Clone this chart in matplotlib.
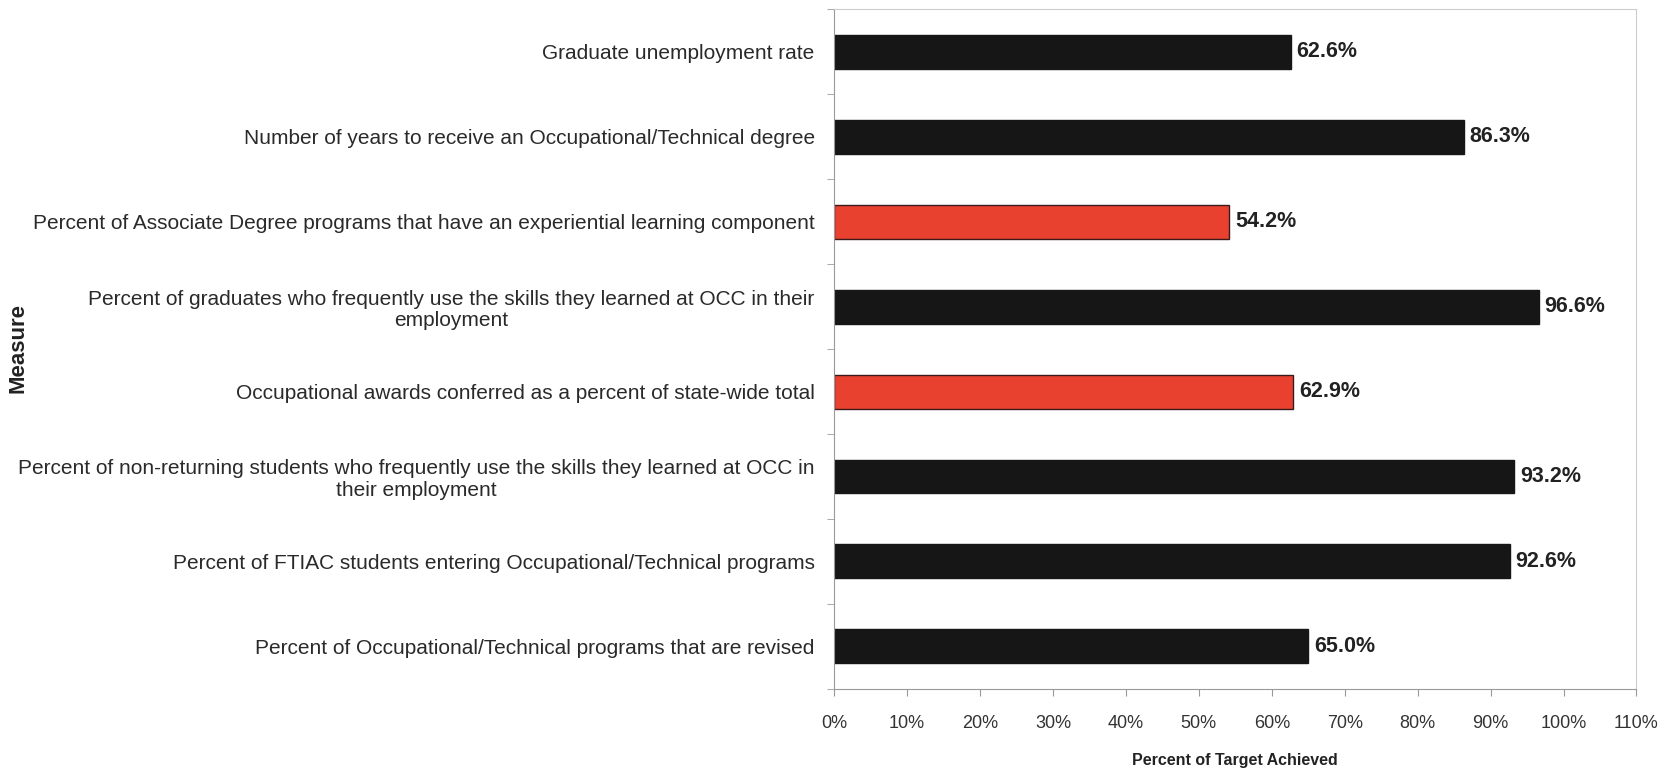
import matplotlib
matplotlib.use("Agg")
import matplotlib.pyplot as plt
from matplotlib.ticker import FuncFormatter, MultipleLocator

plt.rcParams['font.family'] = ['Liberation Sans', 'DejaVu Sans']

measures = [
    "Graduate unemployment rate",
    "Number of years to receive an Occupational/Technical degree",
    "Percent of Associate Degree programs that have an experiential learning component",
    "Percent of graduates who frequently use the skills they learned at OCC in their\nemployment",
    "Occupational awards conferred as a percent of state-wide total",
    "Percent of non-returning students who frequently use the skills they learned at OCC in\ntheir employment",
    "Percent of FTIAC students entering Occupational/Technical programs",
    "Percent of Occupational/Technical programs that are revised",
]
achieved = [62.6, 86.3, 54.2, 96.6, 62.9, 93.2, 92.6, 65.0]
below_target = [False, False, True, False, True, False, False, False]

dark = "#161616"
red = "#e8412f"

fig = plt.figure(figsize=(16.75, 7.74), dpi=100)
ax = fig.add_axes([0.498, 0.110, 0.479, 0.878])

ypos = list(range(len(measures)))
colors = [red if b else dark for b in below_target]
edges = ["#3a1a1a" if b else dark for b in below_target]
ax.barh(ypos, achieved, height=0.4, color=colors, edgecolor=edges, linewidth=1.0)

for y, v in zip(ypos, achieved):
    ax.text(v + 0.8, y, f"{v:.1f}%", va="center", ha="left",
            fontsize=15.5, fontweight="bold", color="#222222")

ax.set_xlim(0, 110)
ax.set_ylim(len(measures) - 0.5, -0.5)
ax.xaxis.set_major_locator(MultipleLocator(10))
ax.xaxis.set_major_formatter(FuncFormatter(lambda x, p: f"{int(round(x))}%"))

ax.set_yticks(ypos)
ax.set_yticklabels(measures, fontsize=15, color="#2a2a2a",
                   multialignment="center", linespacing=1.15)
ax.set_yticks([i + 0.5 for i in range(-1, len(measures))], minor=True)
ax.tick_params(axis="y", which="major", length=0, pad=14)
ax.tick_params(axis="y", which="minor", length=5, color="#999999")
ax.tick_params(axis="x", length=5, color="#999999", labelsize=13,
               labelcolor="#333333", pad=13.5)

for side in ["top", "right"]:
    ax.spines[side].set_color("#cccccc")
    ax.spines[side].set_linewidth(0.8)
for side in ["left", "bottom"]:
    ax.spines[side].set_color("#999999")
    ax.spines[side].set_linewidth(0.8)

ax.set_xlabel("Percent of Target Achieved", fontsize=11.5, fontweight="bold",
              color="#222222")
ax.xaxis.label.set_va("center")
ax.xaxis.set_label_coords(0.5, -0.105)
fig.text(0.011, 0.55, "Measure", rotation=90, fontsize=16, fontweight="bold",
         color="#222222", ha="center", va="center")

fig.savefig("out.png", dpi=100, facecolor="white")
